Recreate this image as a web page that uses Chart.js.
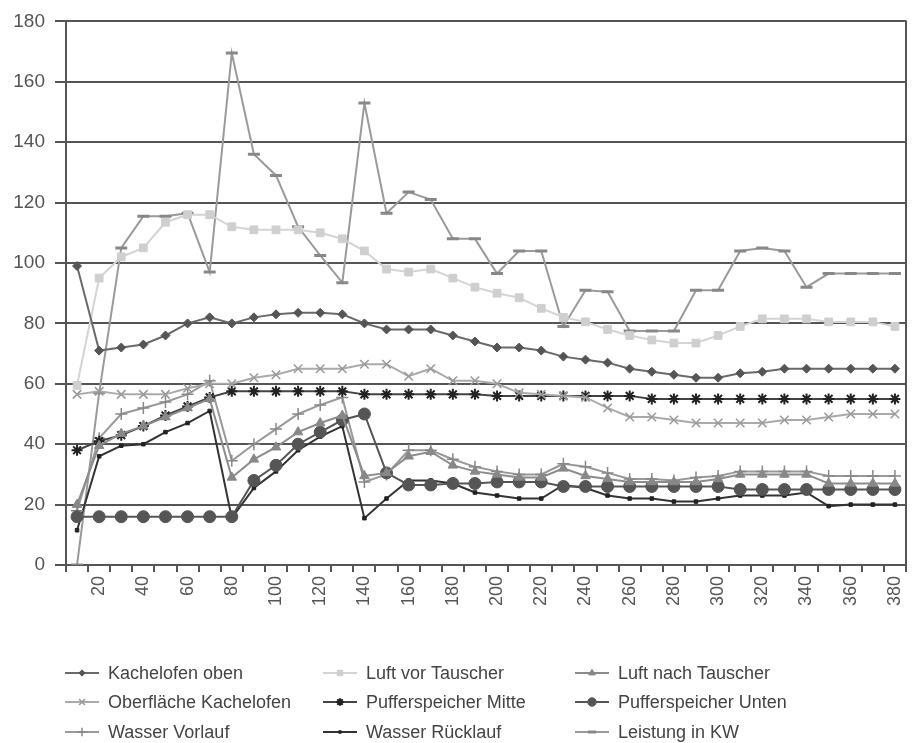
<!DOCTYPE html>
<html>
<head>
<meta charset="utf-8">
<script src="https://cdn.jsdelivr.net/npm/chart.js@4.4.1/dist/chart.umd.min.js"></script>
<style>
body { margin: 0; background: #fff; }
#wrap { width: 924px; height: 743px; position: relative; }
</style>
</head>
<body>
<div id="wrap"><canvas id="chart"></canvas></div>
<script>
// x categories (minutes)
var labels = [10,20,30,40,50,60,70,80,90,100,110,120,130,140,150,160,170,180,190,200,
	210,220,230,240,250,260,270,280,290,300,310,320,330,340,350,360,370,380]

var kachelofenOben = [99,71,72,73,76,80,82,80,82,83,83.5,83.5,83,80,78,78,78,76,74,72,
	72,71,69,68,67,65,64,63,62,62,63.5,64,65,65,65,65,65,65]
var luftVorTauscher = [59.5,95,102,105,113.5,116,116,112,111,111,111,110,108,104,98,97,98,95,92,90,
	88.5,85,82,80.5,78,76,74.5,73.5,73.5,76,79,81.5,81.5,81.5,80.5,80.5,80.5,79]
var luftNachTauscher = [20,39.5,43.5,46,49,52,55,29,35,39,44,47,49.5,29.5,30.5,36,37.5,33,31,30,
	29,29,32,29.5,28.5,27.5,27.5,27.5,27.5,28.5,30,30,30,30,27,27,27,27]
var oberflaecheKachelofen = [56.5,57.5,56.5,56.5,56.5,58.5,60,60,62,63,65,65,65,66.5,66.5,62.5,65,61,61,60,
	57,56.5,56,55.5,52,49,49,48,47,47,47,47,48,48,49,50,50,50]
var pufferMitte = [38,41,43,46,49.5,52.5,55.5,57.5,57.5,57.5,57.5,57.5,57.5,56.5,56.5,56.5,56.5,56.5,56.5,56,
	56,56,56,56,56,56,55,55,55,55,55,55,55,55,55,55,55,55]
var pufferUnten = [16,16,16,16,16,16,16,16,28,33,40,44,48,50,30.5,26.5,26.5,27,27,27.5,
	27.5,27.5,26,26,26,26,26,26,26,26,25,25,25,25,25,25,25,25]
var wasserVorlauf = [18,42,50,52,54,56.5,61,34.5,40,45,50,53,55.5,27.5,30,38,38,35,32.5,31,
	30,30,33.5,32.5,30.5,28.5,28.5,28,29,29.5,31,31,31,31,29.5,29.5,29.5,29.5]
var wasserRuecklauf = [11.5,36,39.5,40,44,47,51,15.5,25.5,31,38,42.5,46,15.5,22,28,28,27,24,23,
	22,22,26.5,25.5,23,22,22,21,21,22,23,23,23,24,19.5,20,20,20]
var leistungKW = [0,57,105,115.5,115.5,116.5,97,169.5,136,129,112,102.5,93.5,153,116.5,123.5,121,108,108,96.5,
	104,104,79,91,90.5,77.5,77.5,77.5,91,91,104,105,104,92,96.5,96.5,96.5,96.5]

var yTicks = [0,20,40,60,80,100,120,140,160,180]

function ds(label, data, line, mark, style, r, bw) {
	return {
		label: label,
		data: data,
		borderColor: line,
		backgroundColor: mark,
		borderWidth: 2,
		tension: 0,
		pointStyle: style,
		pointRadius: r,
		pointBackgroundColor: mark,
		pointBorderColor: mark,
		pointBorderWidth: bw || 1
	}
}

var datasets = [
	ds('Kachelofen oben', kachelofenOben, '#6a6a6a', '#555', 'rectRot', 4.5),
	ds('Luft vor Tauscher', luftVorTauscher, '#d4d4d4', '#cfcfcf', 'rect', 5.5),
	ds('Luft nach Tauscher', luftNachTauscher, '#8c8c8c', '#888', 'triangle', 5.5),
	ds('Oberfläche Kachelofen', oberflaecheKachelofen, '#aaa', '#999', 'crossRot', 6, 1.5),
	ds('Pufferspeicher Mitte', pufferMitte, '#444', '#222', 'star', 5.5, 2),
	ds('Pufferspeicher Unten', pufferUnten, '#555', '#555', 'circle', 6),
	ds('Wasser Vorlauf', wasserVorlauf, '#999', '#888', 'cross', 6, 1.5),
	ds('Wasser Rücklauf', wasserRuecklauf, '#333', '#222', 'rect', 2.5),
	ds('Leistung in KW', leistungKW, '#9a9a9a', '#888', 'line', 6, 3)
]

// right frame line + legend in a 3x3 grid
var extras = {
	id: 'extras',
	afterDraw: function(chart) {
		var ctx = chart.ctx, a = chart.chartArea
		ctx.save()
		ctx.strokeStyle = '#555'
		ctx.lineWidth = 2
		ctx.beginPath()
		ctx.moveTo(a.right, a.top - 1)
		ctx.lineTo(a.right, a.bottom + 7)
		ctx.stroke()

		var colX = [65, 323, 575], rowY = [673, 702, 732]
		ctx.font = '18px "Liberation Sans", Arial, sans-serif'
		ctx.textBaseline = 'middle'
		chart.data.datasets.forEach(function(d, k) {
			var x = colX[k % 3], y = rowY[Math.floor(k / 3)]
			ctx.strokeStyle = d.borderColor
			ctx.lineWidth = 2
			ctx.beginPath()
			ctx.moveTo(x, y)
			ctx.lineTo(x + 34, y)
			ctx.stroke()
			ctx.fillStyle = d.pointBackgroundColor
			ctx.strokeStyle = d.pointBorderColor
			ctx.lineWidth = d.pointBorderWidth
			if (Chart.helpers && Chart.helpers.drawPoint) {
				Chart.helpers.drawPoint(ctx, { pointStyle: d.pointStyle, radius: d.pointRadius * 0.7, rotation: 0, borderWidth: d.pointBorderWidth }, x + 17, y)
			}
			ctx.fillStyle = '#444'
			ctx.fillText(d.label, x + 43, y + 1)
		})
		ctx.restore()
	}
}

var chart = new Chart(document.getElementById('chart'), {
	type: 'line',
	data: { labels: labels, datasets: datasets },
	options: {
		responsive: true,
		maintainAspectRatio: false,
		animation: false,
		layout: { padding: { left: 0, right: 18, top: 17, bottom: 123 } },
		plugins: { legend: { display: false }, tooltip: { enabled: false } },
		scales: {
			x: {
				offset: true,
				grid: { offset: true, drawOnChartArea: false, drawTicks: true, tickLength: 7, color: '#555', lineWidth: 2 },
				border: { color: '#555', width: 2 },
				ticks: {
					autoSkip: false, maxRotation: 90, minRotation: 90, padding: 4,
					color: '#555', font: { family: '"Liberation Sans", Arial, sans-serif', size: 18 },
					callback: function(v, i) { return i % 2 ? this.getLabelForValue(v) : '' }
				},
				afterFit: function(s) { s.height = 55 }
			},
			y: {
				min: 0, max: 180,
				afterBuildTicks: function(s) { s.ticks = yTicks.map(function(v) { return { value: v } }) },
				grid: { color: '#555', lineWidth: 2, tickLength: 11 },
				border: { color: '#555', width: 2 },
				ticks: { padding: 10, color: '#555', font: { family: '"Liberation Sans", Arial, sans-serif', size: 19 } },
				afterFit: function(s) { s.width = 66 }
			}
		}
	},
	plugins: [extras]
})
</script>
</body>
</html>
